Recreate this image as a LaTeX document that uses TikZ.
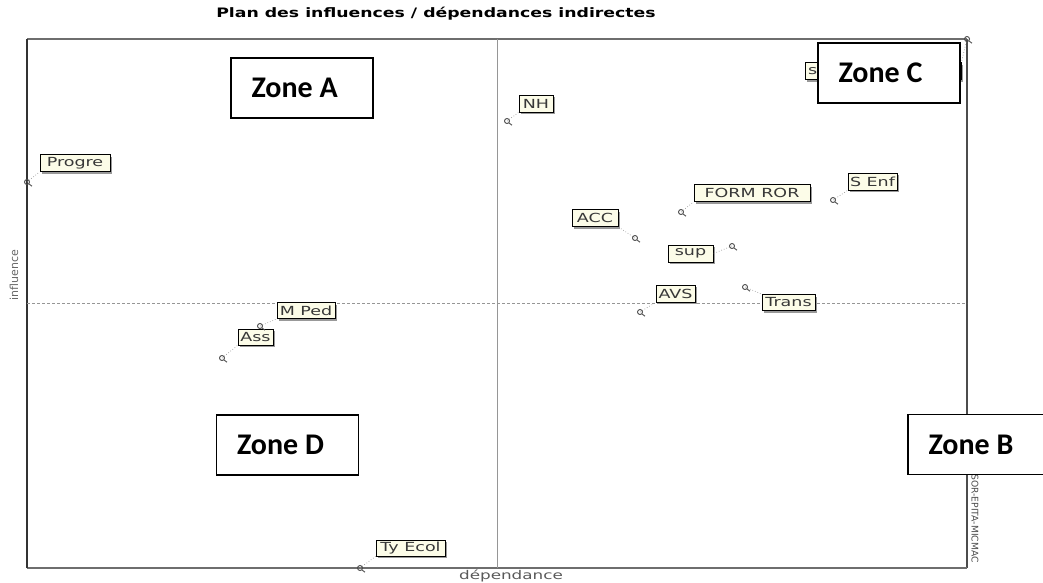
\documentclass[tikz,border=0pt]{standalone}
\usepackage{fontspec}
\usepackage{graphicx}
\usetikzlibrary{shadows}
\newfontfamily\titlefont{DejaVu Sans}
\newfontfamily\zonefont{Carlito}
\definecolor{lblfill}{RGB}{252,252,232}
\definecolor{lbltext}{RGB}{55,55,55}
\definecolor{framegray}{RGB}{110,110,110}
\definecolor{axisgray}{RGB}{150,150,150}
% the chart's own lettering is set wide
\newcommand{\wide}[1]{\scalebox{1.4}[1]{#1}}
\tikzset{
  lbl/.style={draw=black, line width=0.9pt, fill=lblfill, text=lbltext,
    font=\titlefont\fontsize{12.5}{14}\selectfont, inner sep=0pt,
    minimum height=17pt,
    drop shadow={shadow xshift=2pt, shadow yshift=-2pt, fill=black!40, opacity=1}},
  marker/.style={draw=black!70, line width=0.9pt},
  leader/.style={draw=black!40, line width=0.7pt, dotted},
  zonebox/.style={draw=black, line width=1.4pt, fill=white, minimum width=142pt,
    minimum height=60pt, inner sep=0pt},
  zonetext/.style={font=\zonefont\bfseries\fontsize{30}{33}\selectfont, anchor=west, inner sep=0pt},
}
\newcommand{\pinmark}[1]{%
  \draw[marker] (#1) circle[radius=2.5];
  \draw[marker] (#1) ++(1.8,1.8) -- ++(3.2,2.4);}
\begin{document}
\begin{tikzpicture}[x=1pt, y=-1pt]
\useasboundingbox (0,0) rectangle (1043,582);

% title
\node[font=\titlefont\bfseries\fontsize{13}{15}\selectfont] (title) at (436,14)
  {\scalebox{1.33}[1]{Plan des influences / dépendances indirectes}};

% plotting frame
\coordinate (tl) at (27,39);
\coordinate (tr) at (967,39);
\coordinate (br) at (967,568);
\coordinate (bl) at (27,568);
\draw[framegray, line width=1.2pt] (tl) -- (tr);
\draw[black!70, line width=1.4pt] (tr) -- (br);
\draw[framegray, line width=1.2pt] (br) -- (bl);
\draw[black!80, line width=1.4pt] (bl) -- (tl);

% mean axes
\coordinate (vtop) at (497,39);
\coordinate (vbot) at (497,568);
\coordinate (hl) at (27,303);
\coordinate (hr) at (967,303);
\draw[axisgray, line width=0.8pt] (vtop) -- (vbot);
\draw[axisgray, line width=0.7pt, dash pattern=on 3pt off 2pt] (hl) -- (hr);

% axis titles
\node[font=\titlefont\fontsize{12}{13}\selectfont, text=black!65] (xlab) at (511,576) {\wide{dépendance}};
\node[font=\titlefont\fontsize{11}{12}\selectfont, text=black!60, rotate=90] (ylab) at (14,275) {influence};
\node[font=\titlefont\fontsize{9.2}{10}\selectfont, text=black!70, rotate=-90, anchor=east, inner sep=0pt] (credit) at (975,563) {LIPSOR-EPITA-MICMAC};

% variable positions
\coordinate (pProgre) at (27,182);
\coordinate (pNH) at (507,121);
\coordinate (pS) at (967,39);
\coordinate (pForm) at (681,212);
\coordinate (pSEnf) at (833,200);
\coordinate (pACC) at (635,238);
\coordinate (pSup) at (732,246);
\coordinate (pAVS) at (640,312);
\coordinate (pTrans) at (745,287);
\coordinate (pMPed) at (260,326);
\coordinate (pAss) at (222,358);
\coordinate (pTy) at (360,568);

% variable labels
\node[lbl, minimum width=156pt, text width=150pt, align=left] (lS) at (883,71) {\wide{s}};
\node[lbl, minimum width=70pt] (lProgre) at (75,163) {\wide{Progre}};
\node[lbl, minimum width=34pt] (lNH) at (536,103.5) {\wide{NH}};
\node[lbl, minimum width=116pt] (lForm) at (752,193) {\wide{FORM\hspace{4pt}ROR}};
\node[lbl, minimum width=49pt] (lSEnf) at (872.5,181.5) {\wide{S Enf}};
\node[lbl, minimum width=46pt] (lACC) at (595,218) {\wide{ACC}};
\node[lbl, minimum width=45pt] (lSup) at (690.5,253.5) {\wide{sup}};
\node[lbl, minimum width=39pt] (lAVS) at (675.5,293.5) {\wide{AVS}};
\node[lbl, minimum width=53pt, minimum height=16pt] (lTrans) at (788.5,302.5) {\wide{Trans}};
\node[lbl, minimum width=58pt, minimum height=16pt] (lMPed) at (306,310.5) {\wide{M Ped}};
\node[lbl, minimum width=35pt, minimum height=16pt] (lAss) at (255.5,337) {\wide{Ass}};
\node[lbl, minimum width=69pt, minimum height=16pt] (lTy) at (410.5,548) {\wide{Ty Ecol}};

% leaders from points to labels
\draw[leader] (pProgre) -- (lProgre.south west);
\draw[leader] (pNH) -- (lNH.south west);
\draw[leader] (pS) -- (lS.north east);
\draw[leader] (pForm) -- (lForm.south west);
\draw[leader] (pSEnf) -- (lSEnf.south west);
\draw[leader] (pACC) -- (lACC.south east);
\draw[leader] (pSup) -- (lSup.east);
\draw[leader] (pAVS) -- (lAVS.south west);
\draw[leader] (pTrans) -- (lTrans.north west);
\draw[leader] (pMPed) -- (lMPed.south west);
\draw[leader] (pAss) -- (lAss.south west);
\draw[leader] (pTy) -- (lTy.south west);

% point markers
\foreach \p in {pProgre,pNH,pS,pForm,pSEnf,pACC,pSup,pAVS,pTrans,pMPed,pAss,pTy}{\pinmark{\p}}

% zone boxes
\node[zonebox] (zA) at (302,88) {};
\node[zonetext] (zAt) at ([xshift=21pt]zA.west) {Zone A};
\node[zonebox] (zC) at (889,73) {};
\node[zonetext] (zCt) at ([xshift=21pt]zC.west) {Zone C};
\node[zonebox] (zD) at (287.5,445) {};
\node[zonetext] (zDt) at ([xshift=21pt]zD.west) {Zone D};
\node[zonebox] (zB) at (979,444.5) {};
\node[zonetext] (zBt) at ([xshift=21pt]zB.west) {Zone B};
\end{tikzpicture}
\end{document}
